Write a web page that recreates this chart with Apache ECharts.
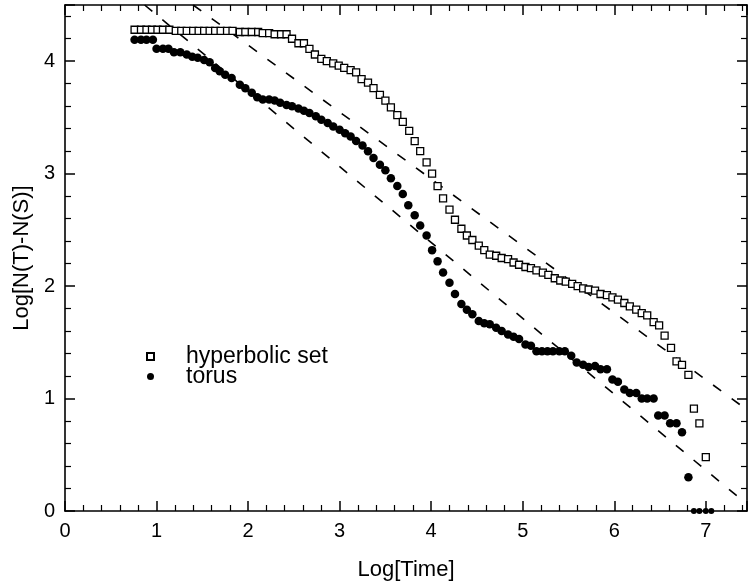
<!DOCTYPE html>
<html>
<head>
<meta charset="utf-8">
<script src="https://cdn.jsdelivr.net/npm/echarts@6/dist/echarts.min.js"></script>
<style>
  html, body { margin: 0; padding: 0; background: #fff; }
  #chart { width: 749px; height: 585px; }
</style>
</head>
<body>
<div id="chart"></div>
<script>
// hyperbolic set: [Log[Time], Log[N(T)-N(S)]]
const hyperbolicSet = [
  [0.76,4.28],[0.83,4.28],[0.89,4.28],[0.95,4.28],[1.01,4.28],[1.07,4.28],[1.14,4.28],
  [1.21,4.27],[1.27,4.27],[1.33,4.27],[1.40,4.27],[1.46,4.27],[1.52,4.27],[1.58,4.27],
  [1.64,4.27],[1.70,4.27],[1.77,4.27],[1.83,4.27],
  [1.91,4.26],[1.97,4.26],[2.04,4.26],[2.11,4.26],[2.16,4.25],[2.23,4.25],
  [2.29,4.24],[2.36,4.24],[2.42,4.24],[2.48,4.20],[2.55,4.16],[2.61,4.16],[2.67,4.11],
  [2.73,4.06],[2.80,4.02],[2.86,4.00],[2.93,3.98],[2.99,3.96],[3.05,3.94],[3.12,3.92],
  [3.18,3.90],[3.24,3.84],[3.31,3.81],[3.37,3.76],[3.44,3.70],[3.50,3.65],[3.56,3.59],
  [3.63,3.52],[3.69,3.46],[3.76,3.38],[3.82,3.29],[3.88,3.20],[3.95,3.10],[4.01,3.00],
  [4.07,2.89],[4.13,2.78],[4.20,2.68],[4.26,2.59],[4.33,2.51],[4.39,2.45],[4.45,2.41],
  [4.52,2.36],[4.58,2.32],[4.64,2.28],[4.71,2.27],[4.77,2.25],[4.84,2.24],[4.90,2.21],
  [4.96,2.19],[5.03,2.17],[5.09,2.16],[5.15,2.14],[5.22,2.12],[5.28,2.10],[5.35,2.07],
  [5.41,2.05],[5.47,2.04],[5.54,2.02],[5.60,2.00],[5.66,1.98],[5.72,1.97],[5.79,1.96],
  [5.85,1.93],[5.92,1.92],[5.98,1.90],[6.04,1.88],[6.11,1.85],[6.17,1.82],[6.24,1.79],
  [6.30,1.76],[6.36,1.74],[6.43,1.68],[6.49,1.65],[6.55,1.56],[6.62,1.45],[6.68,1.33],
  [6.74,1.30],[6.81,1.21],[6.87,0.91],[6.93,0.78],[7.00,0.48]
];

const torus = [
  [0.76,4.19],[0.83,4.19],[0.89,4.19],[0.96,4.19],
  [1.00,4.11],[1.07,4.11],[1.13,4.11],[1.19,4.08],[1.26,4.08],[1.33,4.06],[1.39,4.04],
  [1.45,4.03],[1.52,4.01],[1.58,3.99],[1.64,3.94],[1.69,3.91],[1.75,3.88],[1.82,3.85],
  [1.91,3.79],[1.97,3.76],[2.04,3.72],[2.10,3.68],[2.16,3.66],[2.23,3.66],[2.29,3.65],
  [2.35,3.63],[2.42,3.61],[2.48,3.60],[2.55,3.58],[2.61,3.56],[2.67,3.54],[2.74,3.51],
  [2.80,3.48],[2.87,3.45],[2.93,3.42],[3.00,3.39],[3.06,3.36],[3.12,3.33],[3.18,3.29],
  [3.25,3.25],[3.31,3.20],[3.37,3.14],[3.44,3.08],[3.50,3.03],[3.56,2.96],[3.63,2.89],
  [3.69,2.82],[3.75,2.72],[3.82,2.63],[3.88,2.54],[3.95,2.45],[4.01,2.32],[4.07,2.22],
  [4.13,2.12],[4.20,2.03],[4.26,1.93],[4.33,1.84],[4.39,1.79],[4.45,1.75],[4.52,1.69],
  [4.58,1.67],[4.64,1.66],[4.71,1.63],[4.77,1.60],[4.84,1.57],[4.90,1.55],[4.96,1.53],
  [5.03,1.48],[5.09,1.47],[5.15,1.42],[5.21,1.42],[5.27,1.42],[5.33,1.42],[5.40,1.42],
  [5.46,1.42],[5.53,1.38],[5.59,1.32],[5.66,1.30],[5.72,1.28],[5.79,1.29],[5.85,1.26],
  [5.92,1.26],[5.98,1.17],[6.04,1.15],[6.11,1.08],[6.17,1.05],[6.24,1.05],[6.30,1.00],
  [6.36,1.00],[6.43,1.00],[6.48,0.85],[6.55,0.85],[6.61,0.78],[6.68,0.78],[6.74,0.70],
  [6.81,0.30],[6.87,0],[6.93,0],[7.00,0],[7.06,0]
];

// dashed guide lines (end points)
const guideA = [[1.40,4.5],[7.45,0.90]];
const guideB = [[0.87,4.5],[7.45,0.06]];

const xTicks = [0,1,2,3,4,5,6,7];
const yTicks = [0,1,2,3,4];

const FONT = '"Liberation Sans", Arial, sans-serif';
const chart = echarts.init(document.getElementById('chart'));

const axisBase = {
  type: 'value',
  interval: 1,
  axisLine: { show: true, onZero: false, lineStyle: { color: '#000', width: 1.6 } },
  axisTick: { show: true, inside: true, length: 10, lineStyle: { color: '#000', width: 1.5 } },
  minorTick: { show: true, splitNumber: 5, length: 6, lineStyle: { color: '#000', width: 1.2 } },
  splitLine: { show: false },
  minorSplitLine: { show: false }
};

const xMax = 7.45, yMax = 4.5;

const option = {
  backgroundColor: '#fff',
  animation: false,
  grid: { left: 65, right: 2, top: 5, bottom: 74, outerBoundsMode: 'none', containLabel: false },
  xAxis: [
    Object.assign({}, axisBase, {
      min: 0, max: xMax, position: 'bottom',
      name: 'Log[Time]', nameLocation: 'middle', nameGap: 48,
      nameTextStyle: { fontFamily: FONT, fontSize: 22, color: '#000' },
      axisLabel: {
        fontFamily: FONT, fontSize: 20, color: '#000', margin: 10,
        formatter: v => xTicks.includes(v) ? String(v) : ''
      }
    }),
    Object.assign({}, axisBase, {
      min: 0, max: xMax, position: 'top', axisLabel: { show: false }
    })
  ],
  yAxis: [
    Object.assign({}, axisBase, {
      min: 0, max: yMax, position: 'left',
      name: 'Log[N(T)-N(S)]', nameLocation: 'middle', nameGap: 26,
      nameTextStyle: { fontFamily: FONT, fontSize: 22, color: '#000' },
      axisLabel: {
        fontFamily: FONT, fontSize: 20, color: '#000', margin: 10,
        formatter: v => yTicks.includes(v) ? String(v) : ''
      }
    }),
    Object.assign({}, axisBase, {
      min: 0, max: yMax, position: 'right', axisLabel: { show: false }
    })
  ],
  legend: {
    data: ['hyperbolic set', 'torus'],
    orient: 'vertical',
    left: 141,
    top: 340,
    itemWidth: 7,
    itemHeight: 7,
    itemGap: -3,
    textStyle: { fontFamily: FONT, fontSize: 23, color: '#000', padding: [0, 0, 0, 27] }
  },
  series: [
    {
      name: 'guide A',
      type: 'line',
      data: guideA,
      symbol: 'none',
      lineStyle: { color: '#000', width: 1.6, type: [10, 13] },
      z: 1
    },
    {
      name: 'guide B',
      type: 'line',
      data: guideB,
      symbol: 'none',
      lineStyle: { color: '#000', width: 1.6, type: [10, 13] },
      z: 1
    },
    {
      name: 'hyperbolic set',
      type: 'scatter',
      data: hyperbolicSet,
      symbol: 'rect',
      symbolSize: 7,
      itemStyle: { color: '#fff', borderColor: '#000', borderWidth: 1.3, opacity: 1 },
      z: 3
    },
    {
      name: 'torus',
      type: 'scatter',
      data: torus,
      symbol: 'circle',
      symbolSize: v => (v[1] === 0 ? 6 : 8.5),
      itemStyle: { color: '#000', opacity: 1 },
      z: 3
    }
  ]
};

chart.setOption(option);
</script>
</body>
</html>
